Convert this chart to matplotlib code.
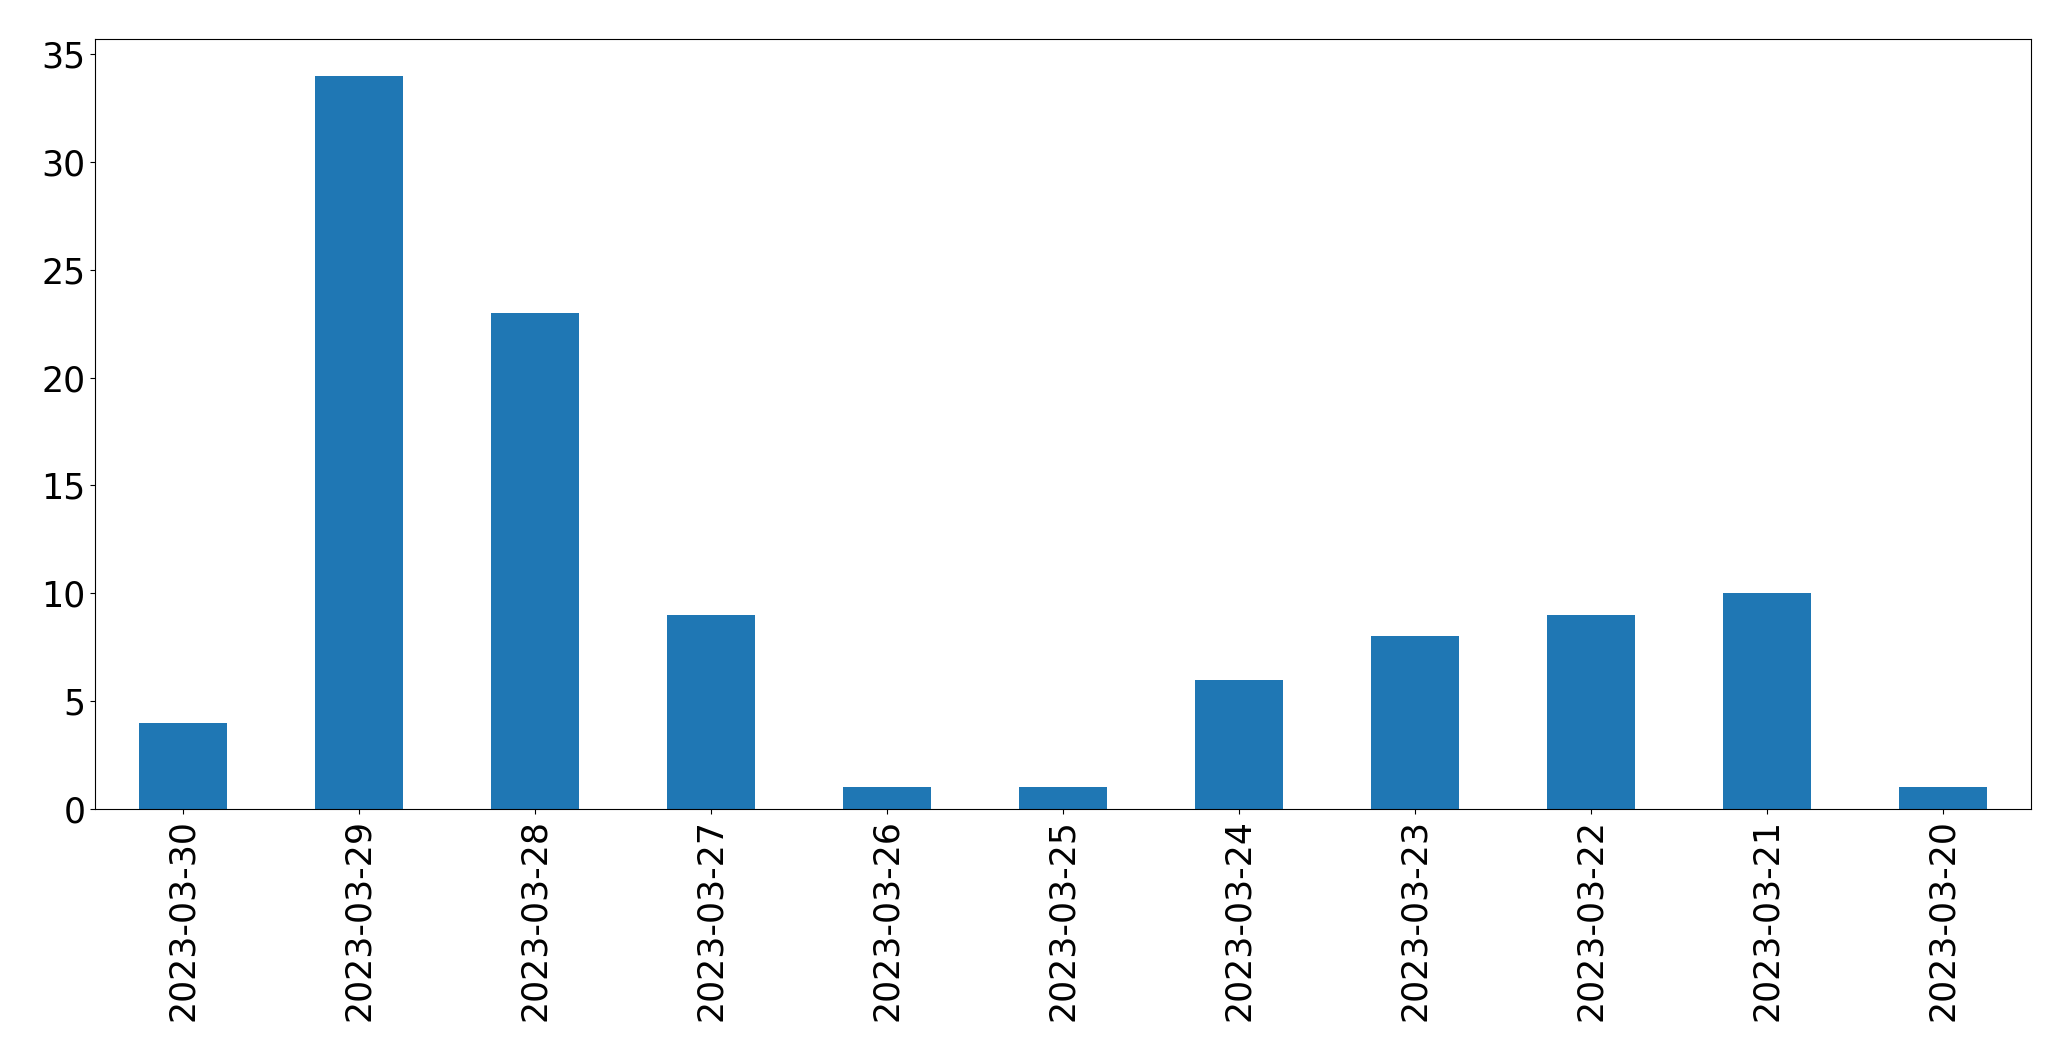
import pandas as pd
import matplotlib
matplotlib.use('Agg')
import matplotlib.pyplot as plt

dates = ['2023-03-30', '2023-03-29', '2023-03-28', '2023-03-27', '2023-03-26',
         '2023-03-25', '2023-03-24', '2023-03-23', '2023-03-22', '2023-03-21',
         '2023-03-20']
counts = [4, 34, 23, 9, 1, 1, 6, 8, 9, 10, 1]


def main():
    s = pd.Series(counts, index=dates)

    fig = plt.figure(figsize=(20.71, 10.61), dpi=100)
    ax = fig.add_axes([95 / 2071, 1 - 809 / 1061, (2031 - 95) / 2071, (809 - 39) / 1061])
    s.plot(kind='bar', ax=ax, color='#1f77b4', fontsize=25)
    ax.tick_params(axis='both', labelsize=25)

    fig.savefig('out.png', dpi=100)


if __name__ == '__main__':
    main()
